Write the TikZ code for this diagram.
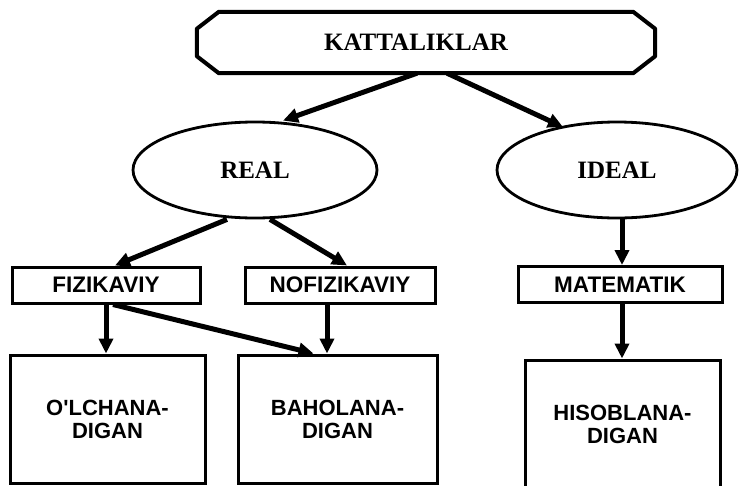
\documentclass[tikz,border=0pt]{standalone}
\usepackage{fontspec}
\setmainfont{Liberation Serif}
\newfontfamily\labelsans{Liberation Sans}
\usetikzlibrary{arrows.meta,shapes.geometric,calc}

\begin{document}
\begin{tikzpicture}[x=1pt,y=-1pt,
  headbox/.style={rectangle,inner sep=0pt,minimum width=458pt,minimum height=61pt,
    font=\bfseries\fontsize{25}{30}\selectfont},
  oval/.style={draw,line width=2.8pt,ellipse,inner sep=0pt,minimum width=244pt,
    minimum height=96pt,font=\bfseries\fontsize{25}{30}\selectfont},
  kindbox/.style={draw,line width=3pt,rectangle,inner sep=0pt,minimum height=36pt,
    font=\labelsans\bfseries\fontsize{22.5}{24}\selectfont},
  leafbox/.style={draw,line width=3pt,rectangle,inner sep=0pt,align=center,
    font=\labelsans\bfseries\fontsize{22}{23}\selectfont},
  link/.style={line width=5pt,-{Triangle[length=15pt,width=14pt]}}
]
\useasboundingbox (0,0) rectangle (741,485);
\clip (0,0) rectangle (741,485);

% root: chamfered box
\node[headbox] (top) at (426,42.5) {\hspace*{-20pt}KATTALIKLAR};
\draw[line width=4pt,line join=round]
  ($(top.north west)+(22,0)$) -- ($(top.north east)+(-22,0)$)
  -- ($(top.north east)+(0,17)$) -- ($(top.south east)+(0,-17)$)
  -- ($(top.south east)+(-22,0)$) -- ($(top.south west)+(22,0)$)
  -- ($(top.south west)+(0,-17)$) -- ($(top.north west)+(0,17)$) -- cycle;

% second level
\node[oval] (real) at (255,170) {REAL};
\node[oval,minimum width=240pt] (ideal) at (617,170) {IDEAL};

% third level
\node[kindbox,minimum width=188pt] (fiz) at (106,285) {FIZIKAVIY};
\node[kindbox,minimum width=190pt] (nof) at (340,285) {NOFIZIKAVIY};
\node[kindbox,minimum width=204pt] (mat) at (620,284.5) {MATEMATIK};

% leaves
\node[leafbox,minimum width=195pt,minimum height=128pt] (olch) at (107.5,419) {O'LCHANA-\\DIGAN};
\node[leafbox,minimum width=199pt,minimum height=128pt] (baho) at (337.5,419) {BAHOLANA-\\DIGAN};
\node[leafbox,minimum width=195pt,minimum height=128pt] (hisob) at (622.5,424) {HISOBLANA-\\DIGAN};

% connectors
\draw[link] ([xshift=-9pt]top.south) -- ([xshift=28pt]real.north);
\draw[link] ([xshift=21pt]top.south) -- ($(ideal.center)+(-54,-43)$);
\draw[link] ([xshift=-28pt]real.south) -- ([xshift=9pt]fiz.north);
\draw[link] ([xshift=15pt]real.south) -- ([xshift=7pt]nof.north);
\draw[link] ([xshift=2pt]mat.north |- ideal.south) -- ([xshift=2pt]mat.north);
\draw[link] (fiz.south) -- (fiz.south |- olch.north);
\draw[link] ([xshift=7pt]fiz.south) -- ([xshift=-24pt]baho.north);
\draw[link] ([xshift=-13pt]nof.south) -- ([xshift=-13pt]nof.south |- baho.north);
\draw[link] ([xshift=2pt]mat.south) -- ([xshift=2pt]mat.south |- hisob.north);
\end{tikzpicture}
\end{document}
